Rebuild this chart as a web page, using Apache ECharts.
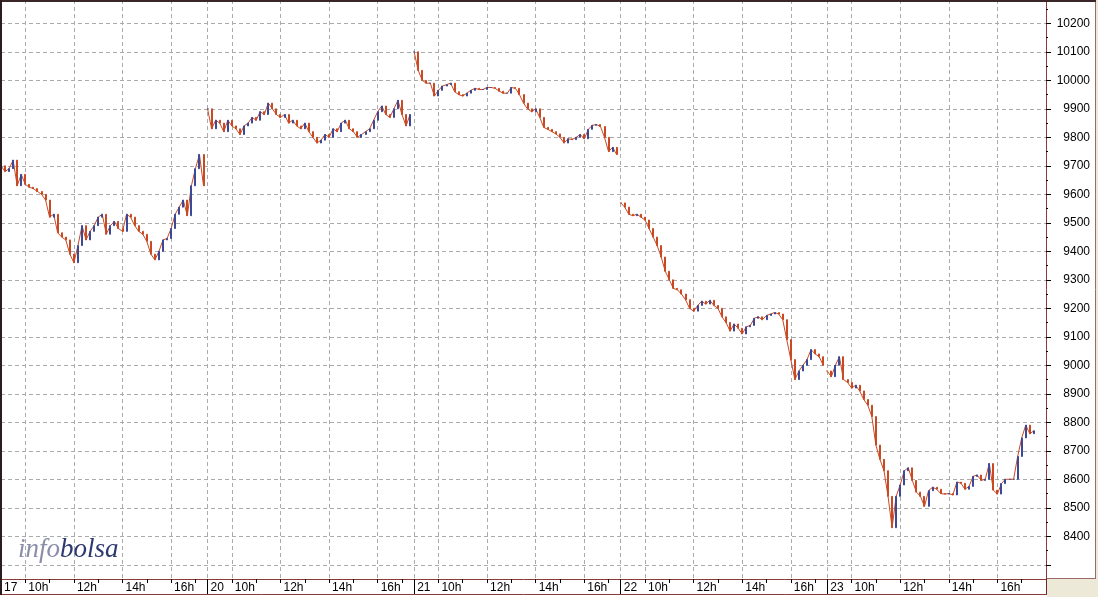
<!DOCTYPE html>
<html><head><meta charset="utf-8">
<script src="https://cdn.jsdelivr.net/npm/echarts@6/dist/echarts.min.js"></script>
<style>html,body{margin:0;padding:0;background:#fff;}#c{width:1098px;height:597px;}</style>
</head><body><div id="c"></div>
<script>
// ---- data (10-minute closes, 09:00 .. 17:20 each session) ----
const days = ['17', '20', '21', '22', '23'];
const hourLabels = { 6: '10h', 18: '12h', 30: '14h', 42: '16h' };
const yTicks = [8300, 8400, 8500, 8600, 8700, 8800, 8900, 9000, 9100, 9200, 9300, 9400, 9500, 9600, 9700, 9800, 9900, 10000, 10100, 10200];
const yLabels = [8400, 8500, 8600, 8700, 8800, 8900, 9000, 9100, 9200, 9300, 9400, 9500, 9600, 9700, 9800, 9900, 10000, 10100, 10200];

const d17 = [9700, 9680, 9690, 9720, 9630, 9670, 9635, 9625, 9620, 9610,
  9600, 9580, 9520, 9530, 9465, 9450, 9440, 9390, 9360, 9420,
  9490, 9440, 9470, 9490, 9520, 9530, 9460, 9490, 9505, 9480,
  9470, 9530, 9520, 9490, 9470, 9460, 9435, 9390, 9370, 9400,
  9440, 9445, 9480, 9530, 9555, 9580, 9525, 9630, 9690, 9740,
  9630];
const d20 = [9900, 9830, 9860, 9850, 9820, 9860, 9840, 9830, 9810, 9840,
  9850, 9870, 9860, 9890, 9880, 9920, 9900, 9880, 9870, 9880,
  9850, 9860, 9840, 9830, 9850, 9820, 9800, 9780, 9790, 9810,
  9800, 9830, 9820, 9850, 9860, 9830, 9820, 9800, 9810, 9820,
  9830, 9860, 9890, 9910, 9880, 9870, 9900, 9930, 9880, 9840,
  9880];
const d21 = [10100, 10035, 10000, 9990, 9990, 9945, 9965, 9980, 9985, 9990,
  9960, 9950, 9945, 9955, 9965, 9972, 9968, 9968, 9975, 9975,
  9972, 9962, 9955, 9955, 9975, 9972, 9950, 9920, 9900, 9890,
  9900, 9870, 9835, 9828, 9820, 9812, 9800, 9780, 9795, 9792,
  9800, 9810, 9795, 9828, 9842, 9845, 9838, 9800, 9750, 9765,
  9740];
const d22 = [9570, 9555, 9530, 9525, 9530, 9520, 9510, 9480, 9450, 9420,
  9380, 9330, 9300, 9270, 9265, 9250, 9230, 9200, 9190, 9210,
  9225, 9215, 9228, 9210, 9200, 9170, 9150, 9120, 9145, 9130,
  9110, 9135, 9140, 9165, 9170, 9160, 9175, 9180, 9185, 9180,
  9160, 9090, 9020, 8950, 8980, 9000, 9020, 9055, 9040, 9030,
  9000];
const d23 = [8980, 8960, 9000, 9030, 8950, 8940, 8920, 8930, 8910, 8880,
  8860, 8820, 8720, 8670, 8630, 8540, 8430, 8540, 8580, 8630,
  8640, 8596, 8555, 8540, 8505, 8560, 8572, 8565, 8550, 8548,
  8550, 8545, 8590, 8586, 8565, 8575, 8610, 8615, 8596, 8600,
  8655, 8562, 8548, 8585, 8600, 8600, 8600, 8680, 8745, 8790,
  8760, 8770];
const sessions = [d17, d20, d21, d22, d23];

// ---- build axis + series ----
const PER_DAY = 51, N = 259, LAST = PER_DAY * days.length;
const cats = [];
for (let i = 0; i < N; i++) {
  const d = Math.floor(i / PER_DAY), k = i % PER_DAY;
  const m = 540 + k * 10;
  cats.push((days[d] || 'x') + ' ' + Math.floor(m / 60) + ':' + String(m % 60).padStart(2, '0') + '#' + i);
}
const RED = '#c94a22', BLUE = '#3c4898';
const lineSeries = sessions.map((arr, d) => {
  const data = new Array(N).fill('-');
  arr.forEach((v, k) => { data[d * PER_DAY + k] = v; });
  return { type: 'line', data, xAxisIndex: 0, yAxisIndex: 0, symbol: 'none', silent: true,
    lineStyle: { color: RED, width: 1 }, animation: false, z: 3 };
});
const candles = new Array(N).fill('-');
sessions.forEach((arr, d) => {
  arr.forEach((v, k) => {
    const o = k === 0 ? v : arr[k - 1];
    candles[d * PER_DAY + k] = [o, v, Math.min(o, v), Math.max(o, v)];
  });
});
const isGrid = i => { const k = i % PER_DAY; return i < LAST && (k === 0 || hourLabels[k] !== undefined); };

const chart = echarts.init(document.getElementById('c'), null, { renderer: 'canvas' });
chart.setOption({
  animation: false,
  backgroundColor: '#ffffff',
  grid: { left: 1, right: 52, top: 0, bottom: 18 },
  xAxis: [{
    type: 'category', data: cats, boundaryGap: false, position: 'bottom',
    axisLine: { show: true, lineStyle: { color: '#8b3a3a', width: 1 } },
    axisTick: { show: true, interval: i => { const k = i % PER_DAY; return i < LAST && k > 0 && k % 6 === 0; }, length: 4, lineStyle: { color: '#000' } },
    axisLabel: {
      interval: i => isGrid(i), align: 'left', margin: 3, padding: [0, 0, 0, 3],
      color: '#000', fontSize: 12, fontFamily: 'Liberation Sans, Arial, sans-serif',
      formatter: (v, i) => { const k = i % PER_DAY; return k === 0 ? days[Math.floor(i / PER_DAY)] : (hourLabels[k] || ''); }
    },
    splitLine: { show: true, interval: i => isGrid(i), lineStyle: { color: '#ababab', type: [4, 3], width: 1 } }
  }, {
    type: 'category', data: cats, boundaryGap: false, position: 'bottom',
    axisLine: { show: false },
    axisTick: { show: true, interval: i => i % PER_DAY === 0 && i > 0 && i < LAST, length: 15, lineStyle: { color: '#000' } },
    axisLabel: { show: false }, splitLine: { show: false }
  }],
  yAxis: [{
    type: 'value', position: 'right', min: 8250, max: 10282, scale: true,
    axisLine: { show: true, lineStyle: { color: '#8b3a3a', width: 1 } },
    axisTick: { show: true, customValues: yTicks, length: 5, lineStyle: { color: '#000' } },
    axisLabel: { customValues: yLabels, formatter: v => String(v), align: 'right', margin: 44, color: '#000', fontSize: 12, fontFamily: 'Liberation Sans, Arial, sans-serif' },
    splitLine: { show: true, lineStyle: { color: '#ababab', type: [4, 3], width: 1 } }
  }, {
    type: 'value', position: 'right', min: 8250, max: 10282, interval: 50,
    axisLine: { show: false }, axisTick: { show: true, length: 2, lineStyle: { color: '#000' } },
    axisLabel: { show: false }, splitLine: { show: false }
  }],
  series: lineSeries.concat([{
    type: 'candlestick', data: candles, xAxisIndex: 0, yAxisIndex: 0, barWidth: 1.5, silent: true, z: 4,
    itemStyle: { color: BLUE, color0: RED, borderColor: BLUE, borderColor0: RED, borderWidth: 1 }
  }]),
  graphic: [
    { type: 'rect', shape: { x: 1047, y: 579, width: 51, height: 18 }, style: { fill: '#ece9d8' }, z: 100 },
    { type: 'rect', shape: { x: 1096, y: 0, width: 2, height: 597 }, style: { fill: '#ece9d8' }, z: 100 },
    { type: 'line', shape: { x1: 1095.5, y1: 0, x2: 1095.5, y2: 579 }, style: { stroke: '#9a6a6a', lineWidth: 1 }, z: 100 },
    { type: 'line', shape: { x1: 1046, y1: 578.5, x2: 1096, y2: 578.5 }, style: { stroke: '#9a6a6a', lineWidth: 1 }, z: 100 },
    { type: 'line', shape: { x1: 1046.5, y1: 578, x2: 1046.5, y2: 595 }, style: { stroke: '#6b2a2a', lineWidth: 1 }, z: 100 },
    { type: 'line', shape: { x1: 0, y1: 594.5, x2: 1047, y2: 594.5 }, style: { stroke: '#8b3a3a', lineWidth: 1 }, z: 100 },
    { type: 'rect', shape: { x: 0, y: 0, width: 1096, height: 2 }, style: { fill: '#3a2626' }, z: 100 },
    { type: 'rect', shape: { x: 0, y: 0, width: 2, height: 595 }, style: { fill: '#2b1d1d' }, z: 100 },
    { type: 'text', x: 18, y: 536, z: 100, style: {
      text: '{a|info}{b|bolsa}',
      rich: {
        a: { fill: '#8a8eaa', fontSize: 27, fontStyle: 'italic', fontFamily: 'Liberation Serif, serif' },
        b: { fill: '#2c3870', fontSize: 27, fontStyle: 'italic', fontFamily: 'Liberation Serif, serif' }
      } } }
  ]
});
</script></body></html>
